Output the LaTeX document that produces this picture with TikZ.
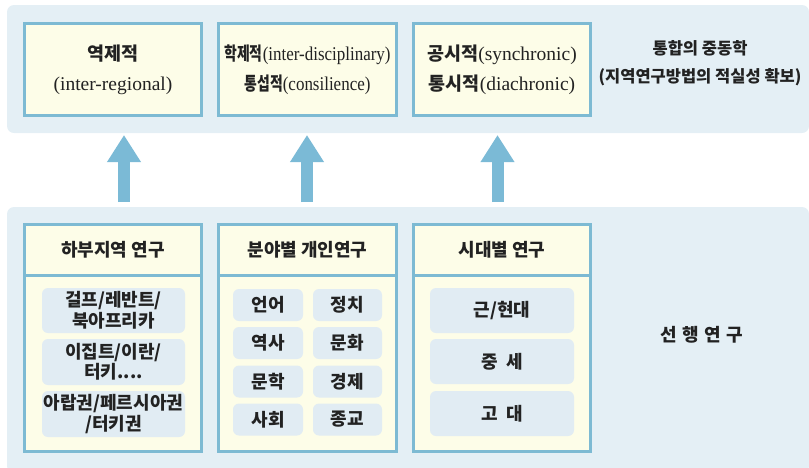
\documentclass[tikz,border=0pt]{standalone}
\usepackage{fontspec}
\setmainfont{Liberation Serif}
\newfontfamily\kr{Noto Sans CJK KR}
\usetikzlibrary{arrows.meta,calc}
\definecolor{panel}{HTML}{E4EFF5}
\definecolor{bord}{HTML}{7DBAD3}
\definecolor{boxfill}{HTML}{FDFDE8}
\definecolor{innerc}{HTML}{E1ECF3}
\definecolor{arrowc}{HTML}{7BBAD6}
\definecolor{txt}{HTML}{222222}
\newcommand{\krb}[1]{{\kr\bfseries\fontsize{18.5}{30}\selectfont #1}}
\newcommand{\krc}[1]{\scalebox{0.75}[1]{\krb{#1}}}
\newcommand{\latc}[1]{\scalebox{0.87}[1]{#1}}
\tikzset{
  panelbox/.style={fill=panel, rounded corners=7pt, inner sep=0pt},
  topbox/.style={draw=bord, line width=3pt, fill=boxfill, inner sep=0pt, align=center,
    text=txt, font=\fontsize{19.5}{30}\selectfont},
  hdrbox/.style={draw=bord, line width=3pt, fill=boxfill, inner sep=0pt, align=center,
    text=txt, font=\kr\bfseries\fontsize{18}{20}\selectfont},
  bodybox/.style={draw=bord, line width=3pt, fill=boxfill, inner sep=0pt},
  innerbox/.style={fill=innerc, rounded corners=6pt, inner sep=0pt, align=center,
    text=txt, font=\kr\bfseries\fontsize{18}{20.5}\selectfont},
  sidetext/.style={align=center, text=txt, font=\kr\bfseries\fontsize{16.5}{28}\selectfont},
  uparrow/.style={draw=arrowc, line width=12pt, -{Triangle[width=32pt,length=27pt]}},
}
\begin{document}
\begin{tikzpicture}[x=1pt,y=-1pt]
\useasboundingbox (0,0) rectangle (809,467);
% panels
\node[panelbox, minimum width=802pt, minimum height=128pt] (toppanel) at (408,69) {};
\node[panelbox, minimum width=802pt, minimum height=266pt] (botpanel) at (408,340) {};
% top boxes
\node[topbox, minimum width=177pt, minimum height=92pt] (t1) at (113,69.5)
  {\krb{역제적}\\(inter-regional)};
\node[topbox, minimum width=178pt, minimum height=92pt] (t2) at (307.5,69.5)
  {\krc{학제적}\latc{(inter-disciplinary)}\\\krc{통섭적}\latc{(consilience)}};
\node[topbox, minimum width=177pt, minimum height=92pt] (t3) at (502,69.5)
  {\krb{공시적}(synchronic)\\\krb{통시적}(diachronic)};
\node[sidetext] (ttext) at (700,63) {통합의 중동학\\(지역연구방법의 적실성 확보)};
% bottom headers and bodies
\node[hdrbox, minimum width=177pt, minimum height=50.5pt] (h1) at (113,249.75) {하부지역 연구};
\node[hdrbox, minimum width=178pt, minimum height=50.5pt] (h2) at (307.5,249.75) {분야별 개인연구};
\node[hdrbox, minimum width=177pt, minimum height=50.5pt] (h3) at (502,249.75) {시대별 연구};
\node[bodybox, minimum width=177pt, minimum height=176.5pt] (b1) at (113,363.25) {};
\node[bodybox, minimum width=178pt, minimum height=176.5pt] (b2) at (307.5,363.25) {};
\node[bodybox, minimum width=177pt, minimum height=176.5pt] (b3) at (502,363.25) {};
\node[sidetext, font=\kr\bfseries\fontsize{18}{20}\selectfont] (btext) at (702,335)
  {선 \hspace{1.5pt}행 \hspace{1.5pt}연 \hspace{1.5pt}구};
% inner boxes column 1
\node[innerbox, minimum width=143pt, minimum height=45pt] (r1) at (113.5,310.5) {걸프/레반트/\\북아프리카};
\node[innerbox, minimum width=143pt, minimum height=46pt] (r2) at (113.5,362) {이집트/이란/\\터키....};
\node[innerbox, minimum width=143pt, minimum height=46pt] (r3) at (113.5,414) {아랍권/페르시아권\\/터키권};
% inner boxes column 2
\node[innerbox, minimum width=70pt, minimum height=32pt] (f1) at (268,305) {언어};
\node[innerbox, minimum width=69pt, minimum height=32pt] (f2) at (347.5,305) {정치};
\node[innerbox, minimum width=70pt, minimum height=32pt] (f3) at (268,343) {역사};
\node[innerbox, minimum width=69pt, minimum height=32pt] (f4) at (347.5,343) {문화};
\node[innerbox, minimum width=70pt, minimum height=32pt] (f5) at (268,381.5) {문학};
\node[innerbox, minimum width=69pt, minimum height=32pt] (f6) at (347.5,381.5) {경제};
\node[innerbox, minimum width=70pt, minimum height=32pt] (f7) at (268,419.5) {사회};
\node[innerbox, minimum width=69pt, minimum height=32pt] (f8) at (347.5,419.5) {종교};
% inner boxes column 3
\node[innerbox, minimum width=144pt, minimum height=45pt] (p1) at (502,310.5) {근/현대};
\node[innerbox, minimum width=144pt, minimum height=45pt] (p2) at (502,361.5) {중 \hspace{4pt}세};
\node[innerbox, minimum width=144pt, minimum height=45pt] (p3) at (502,413.5) {고 \hspace{4pt}대};
% arrows
\coordinate (a1s) at (124,202); \coordinate (a1e) at (124,135);
\coordinate (a2s) at (307,202); \coordinate (a2e) at (307,135);
\coordinate (a3s) at (497.5,202); \coordinate (a3e) at (497.5,135);
\draw[uparrow] (a1s) -- (a1e);
\draw[uparrow] (a2s) -- (a2e);
\draw[uparrow] (a3s) -- (a3e);
\end{tikzpicture}
\end{document}
